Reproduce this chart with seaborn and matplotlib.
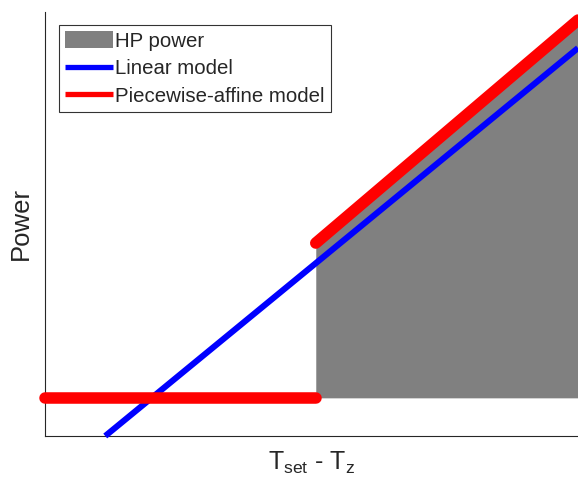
import numpy as np
import pandas as pd
import matplotlib
matplotlib.use("Agg")
import matplotlib.pyplot as plt
import seaborn as sns
from matplotlib.patches import Patch
from matplotlib.lines import Line2D

# Data (arbitrary units)
threshold = 5.08
red_low_x = [0.0, 5.08]
red_low_y = [0.9, 0.9]
red_high_x = [5.08, 10.0]
red_high_y = [4.55, 9.81]
blue_x = [1.13, 10.0]
blue_y = [0.0, 9.15]
fill_x = [5.08, 10.0]
fill_top = [4.55, 9.81]
fill_base = 0.9
legend_labels = ["HP power", "Linear model", "Piecewise-affine model"]

sns.set_style("white")
plt.rcParams['font.family'] = ['Liberation Sans', 'DejaVu Sans']
plt.rcParams['mathtext.fontset'] = 'custom'
plt.rcParams['mathtext.rm'] = 'Liberation Sans'
plt.rcParams['mathtext.it'] = 'Liberation Sans'

fig = plt.figure(figsize=(5.78, 4.88), dpi=100)
ax = fig.add_axes([45/578, 52/488, 533/578, 424/488])

ax.fill_between(fill_x, [fill_base]*2, fill_top, color=(0.5, 0.5, 0.5), linewidth=0, zorder=1)

df_blue = pd.DataFrame({"x": blue_x, "y": blue_y})
sns.lineplot(data=df_blue, x="x", y="y", ax=ax, color=(0, 0, 1), linewidth=4.4,
             solid_capstyle="butt", clip_on=False, zorder=3)
df_r1 = pd.DataFrame({"x": red_low_x, "y": red_low_y})
df_r2 = pd.DataFrame({"x": red_high_x, "y": red_high_y})
for d in (df_r1, df_r2):
    sns.lineplot(data=d, x="x", y="y", ax=ax, color=(1, 0, 0), linewidth=8.3,
                 solid_capstyle="round", clip_on=False, zorder=4)

ax.set_xlim(0, 10)
ax.set_ylim(0, 10)
ax.set_xticks([])
ax.set_yticks([])
for s in ["top", "right"]:
    ax.spines[s].set_visible(False)
for s in ["left", "bottom"]:
    ax.spines[s].set_color((0.15, 0.15, 0.15))
    ax.spines[s].set_linewidth(0.8)

ax.set_xlabel(r"T$_{\rm set}$ - T$_{\rm z}$", fontsize=18, color=(0.15, 0.15, 0.15), labelpad=10)
ax.set_ylabel("Power", fontsize=18.5, color=(0.15, 0.15, 0.15), labelpad=9)

handles = [Patch(facecolor=(0.5, 0.5, 0.5), edgecolor='none'),
           Line2D([0], [0], color=(0, 0, 1), linewidth=3.8, solid_capstyle="butt"),
           Line2D([0], [0], color=(1, 0, 0), linewidth=3.8, solid_capstyle="butt")]
leg = ax.legend(handles, legend_labels, loc="upper left", bbox_to_anchor=(0.026, 0.969),
                fontsize=14.7, frameon=True, fancybox=False, borderpad=0.3,
                handlelength=2.35, handleheight=0.9, handletextpad=0.1,
                labelspacing=0.4, borderaxespad=0)
leg.get_frame().set_edgecolor("black")
leg.get_frame().set_linewidth(0.8)

fig.savefig("out.png", dpi=100)
